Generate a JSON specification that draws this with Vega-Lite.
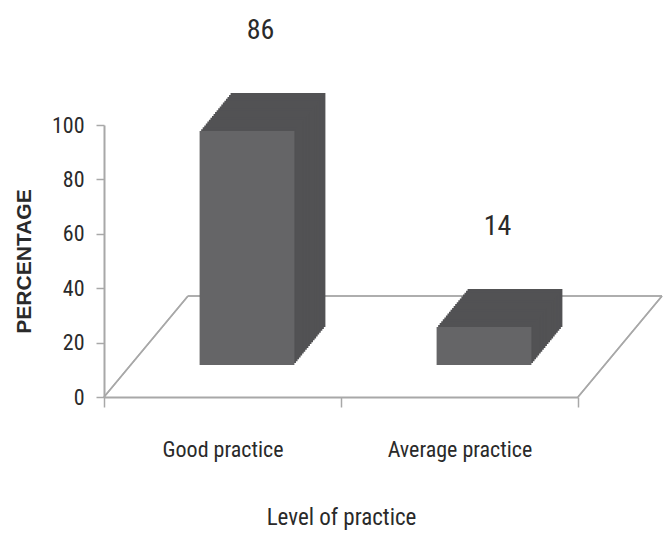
{
  "$schema": "https://vega.github.io/schema/vega-lite/v6.json",
  "autosize": {"type": "none"},
  "width": 474,
  "height": 272,
  "padding": {"left": 104, "top": 125, "right": 87, "bottom": 138},
  "background": "white",
  "config": {
    "view": {"stroke": null},
    "font": "Liberation Sans Narrow, Roboto Condensed, DejaVu Sans Condensed, sans-serif",
    "axis": {
      "labelFont": "Liberation Sans Narrow, Roboto Condensed, DejaVu Sans Condensed, sans-serif",
      "titleFont": "Liberation Sans Narrow, Roboto Condensed, DejaVu Sans Condensed, sans-serif",
      "labelColor": "#2a2a2a",
      "titleColor": "#2a2a2a",
      "domainColor": "#a8a8a8",
      "tickColor": "#a8a8a8",
      "domainWidth": 2,
      "tickWidth": 1.5,
      "grid": false
    }
  },
  "data": {
    "values": [
      {"level": "Good practice", "pct": 86},
      {"level": "Average practice", "pct": 14}
    ]
  },
  "encoding": {
    "x": {
      "field": "level",
      "type": "nominal",
      "sort": null,
      "scale": {"paddingInner": 0, "paddingOuter": 0},
      "axis": {
        "title": "Level of practice",
        "labelAngle": 0,
        "tickBand": "extent",
        "tickSize": 10,
        "labelPadding": 32,
        "labelFontSize": 22,
        "titleFontSize": 23,
        "titleFontWeight": "normal",
        "titlePadding": 46
      }
    }
  },
  "layer": [
    {
      "mark": {"type": "rule", "color": "#a8a8a8", "strokeWidth": 1.5, "x2Offset": 84, "y2Offset": -101},
      "encoding": {
        "x": {"datum": "Good practice", "bandPosition": 0},
        "x2": {"datum": "Good practice", "bandPosition": 0},
        "y": {"datum": 0},
        "y2": {"datum": 0}
      }
    },
    {
      "mark": {"type": "rule", "color": "#a8a8a8", "strokeWidth": 1.5, "x2Offset": 84, "y2Offset": -101},
      "encoding": {
        "x": {"datum": "Average practice", "bandPosition": 1},
        "x2": {"datum": "Average practice", "bandPosition": 1},
        "y": {"datum": 0},
        "y2": {"datum": 0}
      }
    },
    {
      "mark": {"type": "rule", "color": "#a8a8a8", "strokeWidth": 1.5, "xOffset": 84, "x2Offset": 84, "yOffset": -101, "y2Offset": -101},
      "encoding": {
        "x": {"datum": "Good practice", "bandPosition": 0},
        "x2": {"datum": "Average practice", "bandPosition": 1},
        "y": {"datum": 0},
        "y2": {"datum": 0}
      }
    },
    {
      "mark": {"type": "bar", "width": {"band": 0.4}, "color": "#525254", "xOffset": 55.5, "x2Offset": 55.5, "yOffset": -70, "y2Offset": -70},
      "encoding": {"y": {"field": "pct", "type": "quantitative", "scale": {"domain": [0, 100], "nice": false},
        "axis": {
          "title": "PERCENTAGE",
          "values": [0, 20, 40, 60, 80, 100],
          "tickSize": 8,
          "labelPadding": 12,
          "labelFontSize": 22,
          "titleFont": "Liberation Sans",
          "titleFontWeight": "bold",
          "titleFontSize": 21,
          "titlePadding": 17
        }}}
    },
    {"mark": {"type": "bar", "width": {"band": 0.4}, "color": "#525254", "xOffset": 53.95, "x2Offset": 53.95, "yOffset": -68.1, "y2Offset": -68.1}, "encoding": {"y": {"field": "pct", "type": "quantitative"}}},
    {"mark": {"type": "bar", "width": {"band": 0.4}, "color": "#525254", "xOffset": 52.4, "x2Offset": 52.4, "yOffset": -66.2, "y2Offset": -66.2}, "encoding": {"y": {"field": "pct", "type": "quantitative"}}},
    {"mark": {"type": "bar", "width": {"band": 0.4}, "color": "#525254", "xOffset": 50.85, "x2Offset": 50.85, "yOffset": -64.3, "y2Offset": -64.3}, "encoding": {"y": {"field": "pct", "type": "quantitative"}}},
    {"mark": {"type": "bar", "width": {"band": 0.4}, "color": "#525254", "xOffset": 49.3, "x2Offset": 49.3, "yOffset": -62.4, "y2Offset": -62.4}, "encoding": {"y": {"field": "pct", "type": "quantitative"}}},
    {"mark": {"type": "bar", "width": {"band": 0.4}, "color": "#525254", "xOffset": 47.75, "x2Offset": 47.75, "yOffset": -60.5, "y2Offset": -60.5}, "encoding": {"y": {"field": "pct", "type": "quantitative"}}},
    {"mark": {"type": "bar", "width": {"band": 0.4}, "color": "#525254", "xOffset": 46.2, "x2Offset": 46.2, "yOffset": -58.6, "y2Offset": -58.6}, "encoding": {"y": {"field": "pct", "type": "quantitative"}}},
    {"mark": {"type": "bar", "width": {"band": 0.4}, "color": "#525254", "xOffset": 44.65, "x2Offset": 44.65, "yOffset": -56.7, "y2Offset": -56.7}, "encoding": {"y": {"field": "pct", "type": "quantitative"}}},
    {"mark": {"type": "bar", "width": {"band": 0.4}, "color": "#525254", "xOffset": 43.1, "x2Offset": 43.1, "yOffset": -54.8, "y2Offset": -54.8}, "encoding": {"y": {"field": "pct", "type": "quantitative"}}},
    {"mark": {"type": "bar", "width": {"band": 0.4}, "color": "#525254", "xOffset": 41.55, "x2Offset": 41.55, "yOffset": -52.9, "y2Offset": -52.9}, "encoding": {"y": {"field": "pct", "type": "quantitative"}}},
    {"mark": {"type": "bar", "width": {"band": 0.4}, "color": "#525254", "xOffset": 40, "x2Offset": 40, "yOffset": -51, "y2Offset": -51}, "encoding": {"y": {"field": "pct", "type": "quantitative"}}},
    {"mark": {"type": "bar", "width": {"band": 0.4}, "color": "#525254", "xOffset": 38.45, "x2Offset": 38.45, "yOffset": -49.1, "y2Offset": -49.1}, "encoding": {"y": {"field": "pct", "type": "quantitative"}}},
    {"mark": {"type": "bar", "width": {"band": 0.4}, "color": "#525254", "xOffset": 36.9, "x2Offset": 36.9, "yOffset": -47.2, "y2Offset": -47.2}, "encoding": {"y": {"field": "pct", "type": "quantitative"}}},
    {"mark": {"type": "bar", "width": {"band": 0.4}, "color": "#525254", "xOffset": 35.35, "x2Offset": 35.35, "yOffset": -45.3, "y2Offset": -45.3}, "encoding": {"y": {"field": "pct", "type": "quantitative"}}},
    {"mark": {"type": "bar", "width": {"band": 0.4}, "color": "#525254", "xOffset": 33.8, "x2Offset": 33.8, "yOffset": -43.4, "y2Offset": -43.4}, "encoding": {"y": {"field": "pct", "type": "quantitative"}}},
    {"mark": {"type": "bar", "width": {"band": 0.4}, "color": "#525254", "xOffset": 32.25, "x2Offset": 32.25, "yOffset": -41.5, "y2Offset": -41.5}, "encoding": {"y": {"field": "pct", "type": "quantitative"}}},
    {"mark": {"type": "bar", "width": {"band": 0.4}, "color": "#525254", "xOffset": 30.7, "x2Offset": 30.7, "yOffset": -39.6, "y2Offset": -39.6}, "encoding": {"y": {"field": "pct", "type": "quantitative"}}},
    {"mark": {"type": "bar", "width": {"band": 0.4}, "color": "#525254", "xOffset": 29.15, "x2Offset": 29.15, "yOffset": -37.7, "y2Offset": -37.7}, "encoding": {"y": {"field": "pct", "type": "quantitative"}}},
    {"mark": {"type": "bar", "width": {"band": 0.4}, "color": "#525254", "xOffset": 27.6, "x2Offset": 27.6, "yOffset": -35.8, "y2Offset": -35.8}, "encoding": {"y": {"field": "pct", "type": "quantitative"}}},
    {"mark": {"type": "bar", "width": {"band": 0.4}, "color": "#525254", "xOffset": 26.05, "x2Offset": 26.05, "yOffset": -33.9, "y2Offset": -33.9}, "encoding": {"y": {"field": "pct", "type": "quantitative"}}},
    {"mark": {"type": "bar", "width": {"band": 0.4}, "color": "#656567", "xOffset": 24.5, "x2Offset": 24.5, "yOffset": -32, "y2Offset": -32}, "encoding": {"y": {"field": "pct", "type": "quantitative"}}},
    {
      "mark": {"type": "text", "dx": 38, "dy": -132, "fontSize": 28, "color": "#2a2a2a", "font": "Liberation Sans Narrow, Roboto Condensed, DejaVu Sans Condensed, sans-serif"},
      "encoding": {
        "y": {"field": "pct", "type": "quantitative"},
        "text": {"field": "pct", "type": "quantitative"}
      }
    }
  ]
}
